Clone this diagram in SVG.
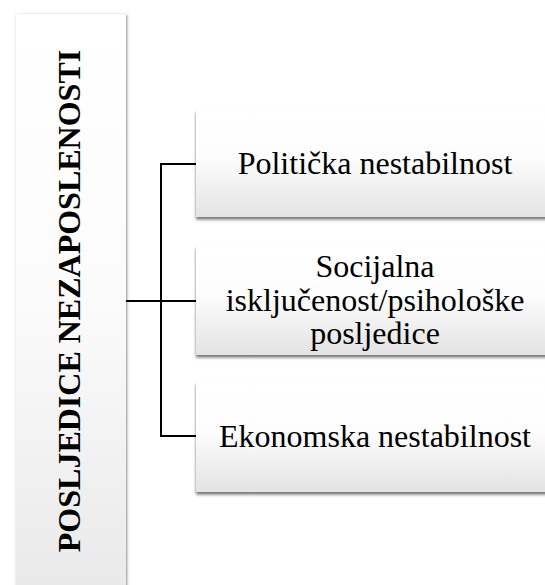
<svg xmlns="http://www.w3.org/2000/svg" width="545" height="585" viewBox="0 0 545 585">
  <style>
    .lbl { font-family: "Liberation Serif", "Times New Roman", serif; font-size: 32px; fill: #000; }
    .ttl { font-family: "Liberation Serif", "Times New Roman", serif; font-size: 32px; font-weight: bold; fill: #000; }
    .box { fill: url(#gBox); filter: url(#sh); }
    .conn { stroke: #000; stroke-width: 2; fill: none; }
  </style>
  <defs>
    <linearGradient id="gBox" x1="0" y1="0" x2="0" y2="1">
      <stop offset="0" stop-color="#ffffff"/>
      <stop offset="0.45" stop-color="#fdfdfd"/>
      <stop offset="1" stop-color="#e3e3e3"/>
    </linearGradient>
    <linearGradient id="gTall" x1="0" y1="0" x2="0" y2="1">
      <stop offset="0" stop-color="#ffffff"/>
      <stop offset="0.5" stop-color="#fbfbfb"/>
      <stop offset="1" stop-color="#e9e9e9"/>
    </linearGradient>
    <filter id="sh" x="-10%" y="-10%" width="120%" height="130%">
      <feDropShadow dx="0" dy="2.5" stdDeviation="1.5" flood-color="#000" flood-opacity="0.55"/>
    </filter>
    <filter id="shTall" x="-20%" y="-5%" width="140%" height="110%">
      <feDropShadow dx="1" dy="1" stdDeviation="1.5" flood-color="#000" flood-opacity="0.45"/>
    </filter>
  </defs>

  <g id="root">
    <rect x="16" y="14" width="110" height="580" fill="url(#gTall)" filter="url(#shTall)"/>
    <text class="ttl" text-anchor="middle" transform="translate(80,301) rotate(-90)">POSLJEDICE NEZAPOSLENOSTI</text>
  </g>

  <g id="connectors">
    <path class="conn" d="M126,301 H196"/>
    <path class="conn" d="M196,164 H161 V436 H196"/>
  </g>

  <g id="n1">
    <rect class="box" x="196" y="110" width="360" height="107"/>
    <text class="lbl" x="375" y="174" text-anchor="middle">Politička nestabilnost</text>
  </g>

  <g id="n2">
    <rect class="box" x="196" y="246" width="360" height="109"/>
    <text class="lbl" x="375" y="277" text-anchor="middle">Socijalna</text>
    <text class="lbl" x="375" y="311" text-anchor="middle">isključenost/psihološke</text>
    <text class="lbl" x="375" y="344" text-anchor="middle">posljedice</text>
  </g>

  <g id="n3">
    <rect class="box" x="196" y="382" width="360" height="110"/>
    <text class="lbl" x="375" y="447" text-anchor="middle">Ekonomska nestabilnost</text>
  </g>
</svg>
